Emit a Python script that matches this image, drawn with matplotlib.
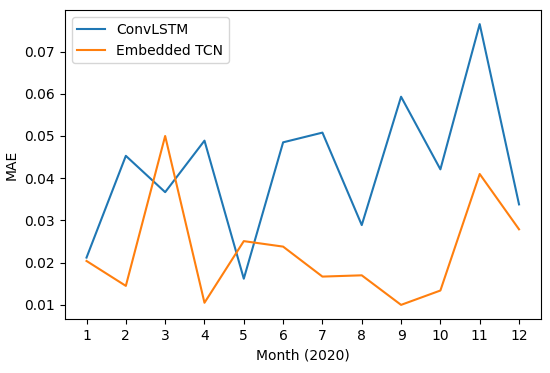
import matplotlib
matplotlib.use("Agg")
import matplotlib.pyplot as plt

months = [1, 2, 3, 4, 5, 6, 7, 8, 9, 10, 11, 12]
convlstm = [0.0212, 0.0453, 0.0367, 0.0489, 0.0162, 0.0485, 0.0508, 0.0289,
            0.0593, 0.0421, 0.0765, 0.0338]
tcn = [0.0204, 0.0145, 0.0500, 0.0105, 0.0251, 0.0238, 0.0167, 0.0170,
       0.0100, 0.0134, 0.0410, 0.0279]

fig = plt.figure(figsize=(5.5, 3.73), dpi=100)
ax = fig.add_axes([0.118, 0.145, 0.865, 0.828])

ax.plot(months, convlstm, label="ConvLSTM")
ax.plot(months, tcn, label="Embedded TCN")

ax.set_xticks(months)
ax.set_xlabel("Month (2020)")
ax.set_ylabel("MAE")
ax.legend(loc="upper left")

fig.savefig("out.png", dpi=100)
